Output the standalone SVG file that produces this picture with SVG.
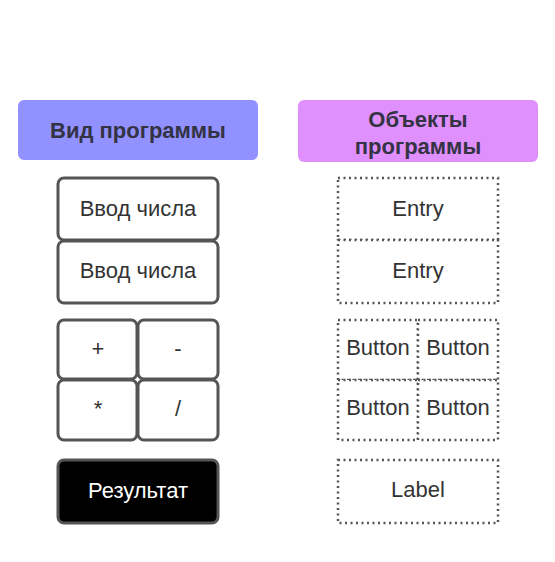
<svg xmlns="http://www.w3.org/2000/svg" width="555" height="562" viewBox="0 0 555 562">
<style>
.hdr{font-family:"Liberation Sans",Arial,sans-serif;font-weight:bold;font-size:22px;fill:#333344;text-anchor:middle}
.w{fill:#ffffff;stroke:#555555;stroke-width:3}
.d{fill:#ffffff;stroke:#555555;stroke-width:2.5;stroke-dasharray:2 3.5}
.t{font-family:"Liberation Sans",Arial,sans-serif;font-size:22px;fill:#333333;text-anchor:middle}
.tw{font-family:"Liberation Sans",Arial,sans-serif;font-size:22px;fill:#ffffff;text-anchor:middle}
</style>
<rect width="555" height="562" fill="#ffffff"/>
<g id="hdr-view"><rect x="18" y="100" width="240" height="60" rx="6" fill="#9191ff"/><text class="hdr" x="138" y="138">Вид программы</text></g>
<g id="hdr-objects"><rect x="298" y="100" width="240" height="62" rx="6" fill="#e090fc"/><text class="hdr" x="418" y="127">Объекты</text><text class="hdr" x="418" y="154">программы</text></g>
<g id="input1"><rect class="w" x="58" y="178" width="160" height="62" rx="6"/><text class="t" x="138" y="216">Ввод числа</text></g>
<g id="input2"><rect class="w" x="58" y="241" width="160" height="62" rx="6"/><text class="t" x="138" y="278">Ввод числа</text></g>
<g id="btn-plus"><rect class="w" x="58" y="320" width="79" height="59" rx="6"/><text class="t" x="98" y="356">+</text></g>
<g id="btn-minus"><rect class="w" x="138" y="320" width="80" height="59" rx="6"/><text class="t" x="178" y="356">-</text></g>
<g id="btn-mul"><rect class="w" x="58" y="380" width="79" height="60" rx="6"/><text class="t" x="98" y="416">*</text></g>
<g id="btn-div"><rect class="w" x="138" y="380" width="80" height="60" rx="6"/><text class="t" x="178" y="416">/</text></g>
<g id="result"><rect x="58" y="460" width="160" height="63" rx="6" fill="#000000" stroke="#555555" stroke-width="3"/><text class="tw" x="138" y="498">Результат</text></g>
<g id="entry1"><rect class="d" x="338" y="178" width="160" height="62"/><text class="t" x="418" y="216">Entry</text></g>
<g id="entry2"><rect class="d" x="338" y="240" width="160" height="63"/><text class="t" x="418" y="278">Entry</text></g>
<g id="button1"><rect class="d" x="338" y="320" width="80" height="60"/><text class="t" x="378" y="355">Button</text></g>
<g id="button2"><rect class="d" x="418" y="320" width="80" height="60"/><text class="t" x="458" y="355">Button</text></g>
<g id="button3"><rect class="d" x="338" y="380" width="80" height="60"/><text class="t" x="378" y="415">Button</text></g>
<g id="button4"><rect class="d" x="418" y="380" width="80" height="60"/><text class="t" x="458" y="415">Button</text></g>
<g id="label"><rect class="d" x="338" y="460" width="160" height="63"/><text class="t" x="418" y="497">Label</text></g>
<g id="connectors"/>
</svg>
